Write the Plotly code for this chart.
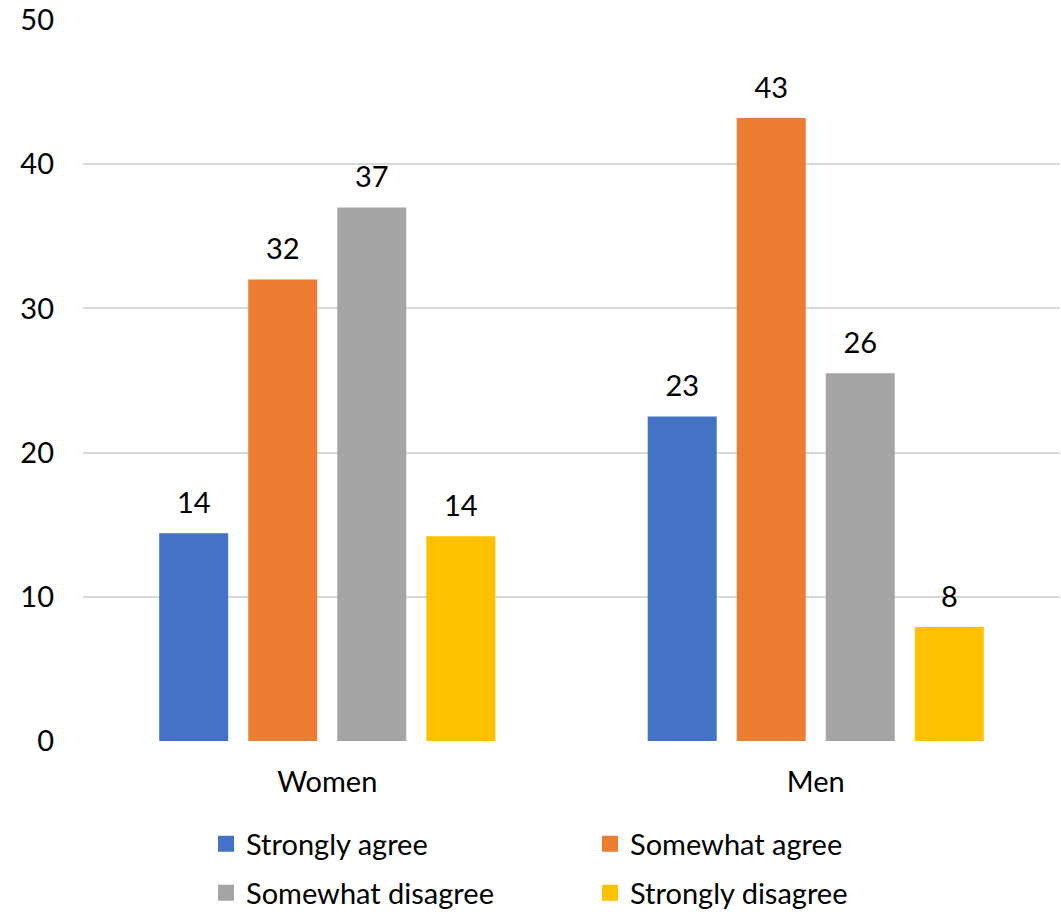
import plotly.graph_objects as go

categories = ["Women", "Men"]
series_names = ["Strongly agree", "Somewhat agree", "Somewhat disagree", "Strongly disagree"]
strongly_agree = [14.4, 22.5]
somewhat_agree = [32.0, 43.2]
somewhat_disagree = [37.0, 25.5]
strongly_disagree = [14.2, 7.9]
labels_strongly_agree = ["14", "23"]
labels_somewhat_agree = ["32", "43"]
labels_somewhat_disagree = ["37", "26"]
labels_strongly_disagree = ["14", "8"]
colors = ["#4472C4", "#ED7D31", "#A5A5A5", "#FFC000"]
y_ticks = [0, 10, 20, 30, 40, 50]

FONT = "Lato"
FS = 29
BARGAP = 0.271
series_values = [strongly_agree, somewhat_agree, somewhat_disagree, strongly_disagree]
series_labels = [labels_strongly_agree, labels_somewhat_agree, labels_somewhat_disagree, labels_strongly_disagree]

fig = go.Figure()
for i, (name, vals, col) in enumerate(zip(series_names, series_values, colors)):
    fig.add_trace(go.Bar(
        x=categories, y=vals, name=name,
        marker=dict(color=col, line=dict(width=0)),
        offsetgroup=f"g{i}", alignmentgroup="a",
        showlegend=False, hoverinfo="x+y+name",
    ))

# value labels, placed above each bar with the same grouping as the bars
for i, (name, vals, labs) in enumerate(zip(series_names, series_values, series_labels)):
    fig.add_trace(go.Scatter(
        x=categories, y=vals, text=labs, mode="markers+text",
        textposition="top center", cliponaxis=False,
        textfont=dict(family=FONT, size=FS, color="#000000"),
        marker=dict(size=19, opacity=0),
        offsetgroup=f"g{i}", alignmentgroup="a",
        showlegend=False, hoverinfo="skip",
    ))

# legend entries (square swatches), two rows via two legends
for i, (name, col) in enumerate(zip(series_names, colors)):
    fig.add_trace(go.Scatter(
        x=[None], y=[None], mode="markers", name=name,
        marker=dict(symbol="square", size=18, color=col),
        legend="legend" if i < 2 else "legend2", showlegend=True,
    ))

legend_common = dict(
    orientation="h", entrywidth=339, entrywidthmode="pixels",
    font=dict(family=FONT, size=FS, color="#000000"),
    bgcolor="rgba(0,0,0,0)", itemclick=False, itemdoubleclick=False,
    xref="container", yref="container", xanchor="left", yanchor="middle",
)

fig.update_layout(
    width=1061, height=912,
    margin=dict(l=83, r=1, t=20, b=171),
    paper_bgcolor="white", plot_bgcolor="white",
    barmode="group", bargap=BARGAP, bargroupgap=0.225,
    scattermode="group", scattergap=BARGAP,
    font=dict(family=FONT, size=FS, color="#000000"),
    yaxis=dict(range=[0, 50], tickvals=y_ticks, showgrid=True, gridcolor="#D9D9D9",
               gridwidth=1.5, zeroline=False, showline=False, ticks="",
               ticklabelstandoff=28, tickfont=dict(family=FONT, size=FS, color="#000000"),
               fixedrange=True),
    xaxis=dict(showline=False, ticks="", ticklabelstandoff=21,
               tickfont=dict(family=FONT, size=FS, color="#000000"), fixedrange=True),
    legend=dict(legend_common, x=206/1061, y=1 - 844/912),
    legend2=dict(legend_common, x=206/1061, y=1 - 893/912),
)

fig.write_html("out.html")
